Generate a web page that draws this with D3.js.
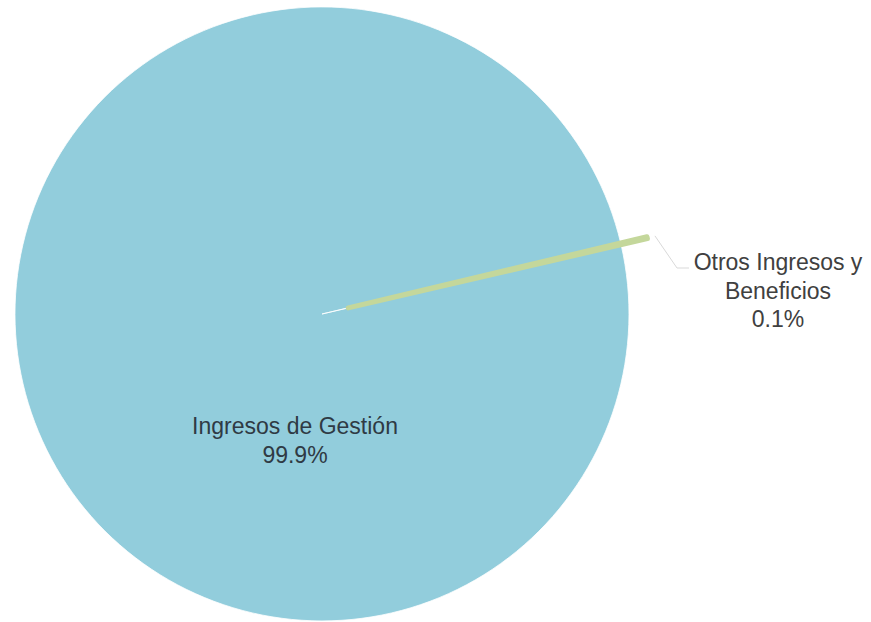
<!DOCTYPE html>
<html>
<head>
<meta charset="utf-8">
<script src="https://cdn.jsdelivr.net/npm/d3@7"></script>
<style>
  html, body { margin: 0; padding: 0; background: #ffffff; }
  svg { display: block; }
  text { font-family: "Liberation Sans", Arial, sans-serif; }
</style>
</head>
<body>
<svg id="chart" width="871" height="622"></svg>
<script>
// ---- Data ----
const categories = ["Ingresos de Gestión", "Otros Ingresos y Beneficios"];
const values = [99.9, 0.1];
const percentLabels = ["99.9%", "0.1%"];

// ---- Layout / style ----
const W = 871, H = 622;
const cx = 322, cy = 314, R = 307;
const colors = ["#92cddc", "#c4d79b"];
const otrosMidDeg = 76.8;      // mid-angle of small slice (clockwise from 12 o'clock)
const explode = [0, 27];

const svg = d3.select("#chart");
const g = svg.append("g").attr("transform", `translate(${cx},${cy})`);

const total = d3.sum(values);
const before = values[0] / total;
const share = values[1] / total;
const mid = otrosMidDeg * Math.PI / 180;
const start = mid - (before + share / 2) * 2 * Math.PI;

const pie = d3.pie().sort(null).value(d => d).startAngle(start).endAngle(start + 2 * Math.PI);
const arcs = pie(values);
const arc = d3.arc().innerRadius(0).outerRadius(R);

g.selectAll("path.slice")
  .data(arcs)
  .join("path")
  .attr("class", "slice")
  .attr("d", arc)
  .attr("fill", (d, i) => colors[i])
  .attr("stroke", (d, i) => i === 1 ? colors[i] : "#ffffff")
  .attr("stroke-width", (d, i) => i === 1 ? 5 : 0.8)
  .attr("stroke-linejoin", "round")
  .attr("transform", (d, i) => {
    const a = (d.startAngle + d.endAngle) / 2;
    return `translate(${Math.sin(a) * explode[i]},${-Math.cos(a) * explode[i]})`;
  });

// Leader line for small slice
const sa = arcs[1];
const am = (sa.startAngle + sa.endAngle) / 2;
const rEnd = R + explode[1] + 8;
const p0 = [Math.sin(am) * rEnd, -Math.cos(am) * rEnd];
const p1 = [691 - cx - 14, 268 - cy];
const p2 = [691 - cx - 2, 268 - cy];
g.append("path")
  .attr("d", d3.line()([p0, p1, p2]))
  .attr("fill", "none")
  .attr("stroke", "#d9d9d9")
  .attr("stroke-width", 1);

// Labels
const fs = 23, lh = 28.5;
const labelG = svg.append("g").attr("font-size", fs);

labelG.append("text")
  .attr("x", 295).attr("y", 434)
  .attr("text-anchor", "middle")
  .attr("fill", "#2f3a44")
  .selectAll("tspan")
  .data([categories[0], percentLabels[0]])
  .join("tspan")
  .attr("x", 295)
  .attr("dy", (d, i) => i === 0 ? 0 : lh)
  .text(d => d);

labelG.append("text")
  .attr("x", 778).attr("y", 270)
  .attr("text-anchor", "middle")
  .attr("fill", "#404040")
  .selectAll("tspan")
  .data(["Otros Ingresos y", "Beneficios", percentLabels[1]])
  .join("tspan")
  .attr("x", 778)
  .attr("dy", (d, i) => i === 0 ? 0 : lh)
  .text(d => d);
</script>
</body>
</html>
